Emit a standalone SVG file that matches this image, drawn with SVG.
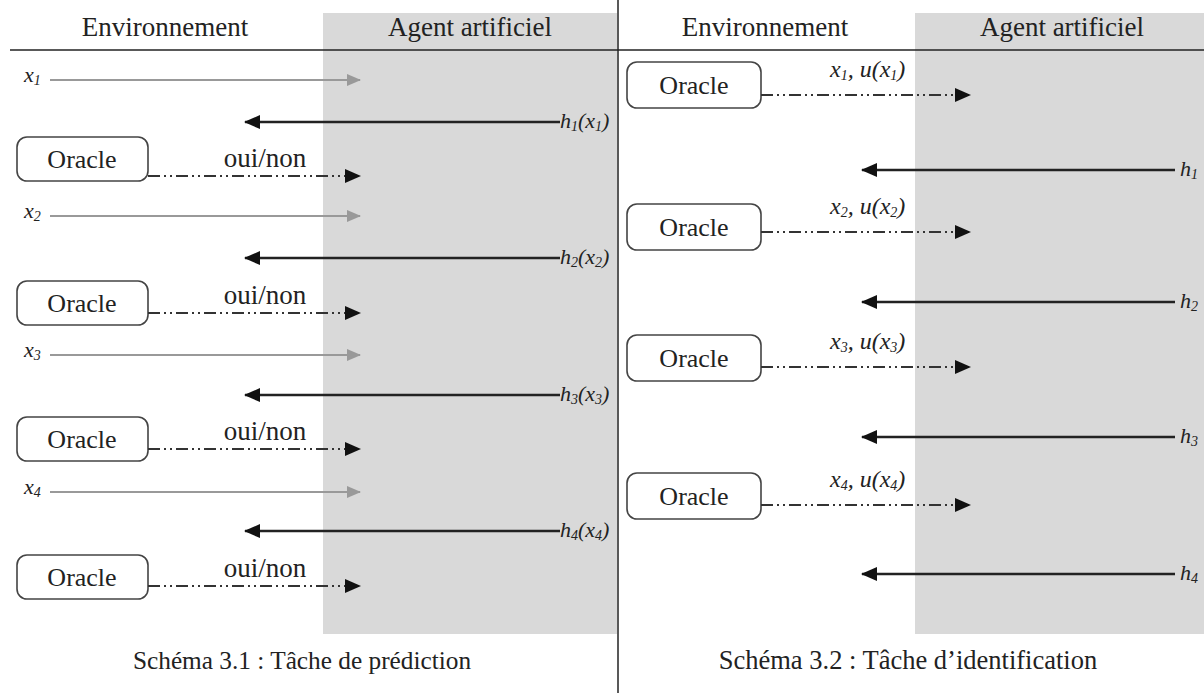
<svg xmlns="http://www.w3.org/2000/svg" width="1204" height="693" viewBox="0 0 1204 693">
<style>
.hdr{font-family:"Liberation Serif","Times New Roman",serif;font-size:27px;fill:#222;text-anchor:middle}
.cap{font-family:"Liberation Serif","Times New Roman",serif;font-size:25.3px;fill:#222;text-anchor:middle}
.cap2{font-size:26.5px}
.orc{font-family:"Liberation Serif","Times New Roman",serif;font-size:26px;fill:#222;text-anchor:middle}
.on{font-family:"Liberation Serif","Times New Roman",serif;font-size:27px;fill:#222;text-anchor:middle}
.m{font-family:"Liberation Serif","Times New Roman",serif;font-style:italic;font-size:22px;fill:#222}
.mr{font-size:24px}
.s{font-size:14px}
.box{fill:#fff;stroke:#444;stroke-width:1.6}
.gray{stroke:#999;stroke-width:2;fill:none}
.blk{stroke:#222;stroke-width:2.5;fill:none}
.dd{stroke:#333;stroke-width:2;fill:none;stroke-dasharray:12 4 2 4 2 4}
</style>
<defs>
<marker id="ag" markerWidth="14" markerHeight="12" refX="13" refY="6" orient="auto" markerUnits="userSpaceOnUse">
<path d="M0,0 L14,6 L0,12 Z" fill="#999"/>
</marker>
<marker id="ab" markerWidth="16" markerHeight="14" refX="15" refY="7" orient="auto" markerUnits="userSpaceOnUse">
<path d="M0,0 L16,7 L0,14 Z" fill="#111"/>
</marker>
</defs>

<g id="background">
<rect x="323" y="13" width="294" height="621" fill="#d9d9d9"/>
<rect x="915" y="13" width="289" height="621" fill="#d9d9d9"/>
<line x1="10" y1="50" x2="1204" y2="50" stroke="#222" stroke-width="1.5"/>
<line x1="618" y1="0" x2="618" y2="693" stroke="#222" stroke-width="1.5"/>
</g>

<g id="headers">
<text class="hdr" x="165" y="36">Environnement</text>
<text class="hdr" x="470" y="36">Agent artificiel</text>
<text class="hdr" x="765" y="36">Environnement</text>
<text class="hdr" x="1062" y="36">Agent artificiel</text>
</g>

<g id="left-nodes">
<g id="oracle-l1"><rect class="box" x="17" y="137" width="131" height="44" rx="10"/><text class="orc" x="82" y="168">Oracle</text></g>
<g id="oracle-l2"><rect class="box" x="17" y="281" width="131" height="44" rx="10"/><text class="orc" x="82" y="312">Oracle</text></g>
<g id="oracle-l3"><rect class="box" x="17" y="417" width="131" height="44" rx="10"/><text class="orc" x="82" y="448">Oracle</text></g>
<g id="oracle-l4"><rect class="box" x="17" y="555" width="131" height="44" rx="10"/><text class="orc" x="82" y="586">Oracle</text></g>
</g>

<g id="right-nodes">
<g id="oracle-r1"><rect class="box" x="627" y="62" width="134" height="46" rx="10"/><text class="orc" x="694" y="94">Oracle</text></g>
<g id="oracle-r2"><rect class="box" x="627" y="204" width="134" height="46" rx="10"/><text class="orc" x="694" y="236">Oracle</text></g>
<g id="oracle-r3"><rect class="box" x="627" y="335" width="134" height="46" rx="10"/><text class="orc" x="694" y="367">Oracle</text></g>
<g id="oracle-r4"><rect class="box" x="627" y="473" width="134" height="46" rx="10"/><text class="orc" x="694" y="505">Oracle</text></g>
</g>

<g id="connectors">
<line class="gray" x1="50" y1="80" x2="360" y2="80" marker-end="url(#ag)"/>
<line class="blk" x1="560" y1="122" x2="245" y2="122" marker-end="url(#ab)"/>
<line class="dd" x1="148" y1="176" x2="360" y2="176" marker-end="url(#ab)"/>
<line class="gray" x1="50" y1="216" x2="360" y2="216" marker-end="url(#ag)"/>
<line class="blk" x1="560" y1="258" x2="245" y2="258" marker-end="url(#ab)"/>
<line class="dd" x1="148" y1="313" x2="360" y2="313" marker-end="url(#ab)"/>
<line class="gray" x1="50" y1="355" x2="360" y2="355" marker-end="url(#ag)"/>
<line class="blk" x1="560" y1="395" x2="245" y2="395" marker-end="url(#ab)"/>
<line class="dd" x1="148" y1="449" x2="360" y2="449" marker-end="url(#ab)"/>
<line class="gray" x1="50" y1="492" x2="360" y2="492" marker-end="url(#ag)"/>
<line class="blk" x1="560" y1="531" x2="245" y2="531" marker-end="url(#ab)"/>
<line class="dd" x1="148" y1="586" x2="360" y2="586" marker-end="url(#ab)"/>
<line class="dd" x1="761" y1="95" x2="970" y2="95" marker-end="url(#ab)"/>
<line class="blk" x1="1175" y1="170" x2="862" y2="170" marker-end="url(#ab)"/>
<line class="dd" x1="761" y1="232" x2="970" y2="232" marker-end="url(#ab)"/>
<line class="blk" x1="1175" y1="302" x2="862" y2="302" marker-end="url(#ab)"/>
<line class="dd" x1="761" y1="367" x2="970" y2="367" marker-end="url(#ab)"/>
<line class="blk" x1="1175" y1="437" x2="862" y2="437" marker-end="url(#ab)"/>
<line class="dd" x1="761" y1="505" x2="970" y2="505" marker-end="url(#ab)"/>
<line class="blk" x1="1175" y1="574" x2="862" y2="574" marker-end="url(#ab)"/>
</g>

<g id="labels">
<text class="m" x="24" y="82">x<tspan class="s" dy="3">1</tspan></text>
<text class="m" x="24" y="218">x<tspan class="s" dy="3">2</tspan></text>
<text class="m" x="24" y="357">x<tspan class="s" dy="3">3</tspan></text>
<text class="m" x="24" y="494">x<tspan class="s" dy="3">4</tspan></text>
<text class="m" x="560" y="128">h<tspan class="s" dy="3">1</tspan><tspan dy="-3">(x</tspan><tspan class="s" dy="3">1</tspan><tspan dy="-3">)</tspan></text>
<text class="m" x="560" y="264">h<tspan class="s" dy="3">2</tspan><tspan dy="-3">(x</tspan><tspan class="s" dy="3">2</tspan><tspan dy="-3">)</tspan></text>
<text class="m" x="560" y="401">h<tspan class="s" dy="3">3</tspan><tspan dy="-3">(x</tspan><tspan class="s" dy="3">3</tspan><tspan dy="-3">)</tspan></text>
<text class="m" x="560" y="537">h<tspan class="s" dy="3">4</tspan><tspan dy="-3">(x</tspan><tspan class="s" dy="3">4</tspan><tspan dy="-3">)</tspan></text>
<text class="on" x="265" y="167">oui/non</text>
<text class="on" x="265" y="304">oui/non</text>
<text class="on" x="265" y="440">oui/non</text>
<text class="on" x="265" y="577">oui/non</text>
<text class="m mr" x="830" y="77">x<tspan class="s" dy="3">1</tspan><tspan dy="-3">, u(x</tspan><tspan class="s" dy="3">1</tspan><tspan dy="-3">)</tspan></text>
<text class="m mr" x="830" y="214">x<tspan class="s" dy="3">2</tspan><tspan dy="-3">, u(x</tspan><tspan class="s" dy="3">2</tspan><tspan dy="-3">)</tspan></text>
<text class="m mr" x="830" y="349">x<tspan class="s" dy="3">3</tspan><tspan dy="-3">, u(x</tspan><tspan class="s" dy="3">3</tspan><tspan dy="-3">)</tspan></text>
<text class="m mr" x="830" y="487">x<tspan class="s" dy="3">4</tspan><tspan dy="-3">, u(x</tspan><tspan class="s" dy="3">4</tspan><tspan dy="-3">)</tspan></text>
<text class="m" x="1180" y="176">h<tspan class="s" dy="3">1</tspan></text>
<text class="m" x="1180" y="308">h<tspan class="s" dy="3">2</tspan></text>
<text class="m" x="1180" y="443">h<tspan class="s" dy="3">3</tspan></text>
<text class="m" x="1180" y="580">h<tspan class="s" dy="3">4</tspan></text>
</g>

<g id="captions">
<text class="cap" x="302" y="669">Schéma 3.1 : Tâche de prédiction</text>
<text class="cap cap2" x="908" y="669">Schéma 3.2 : Tâche d’identification</text>
</g>
</svg>
